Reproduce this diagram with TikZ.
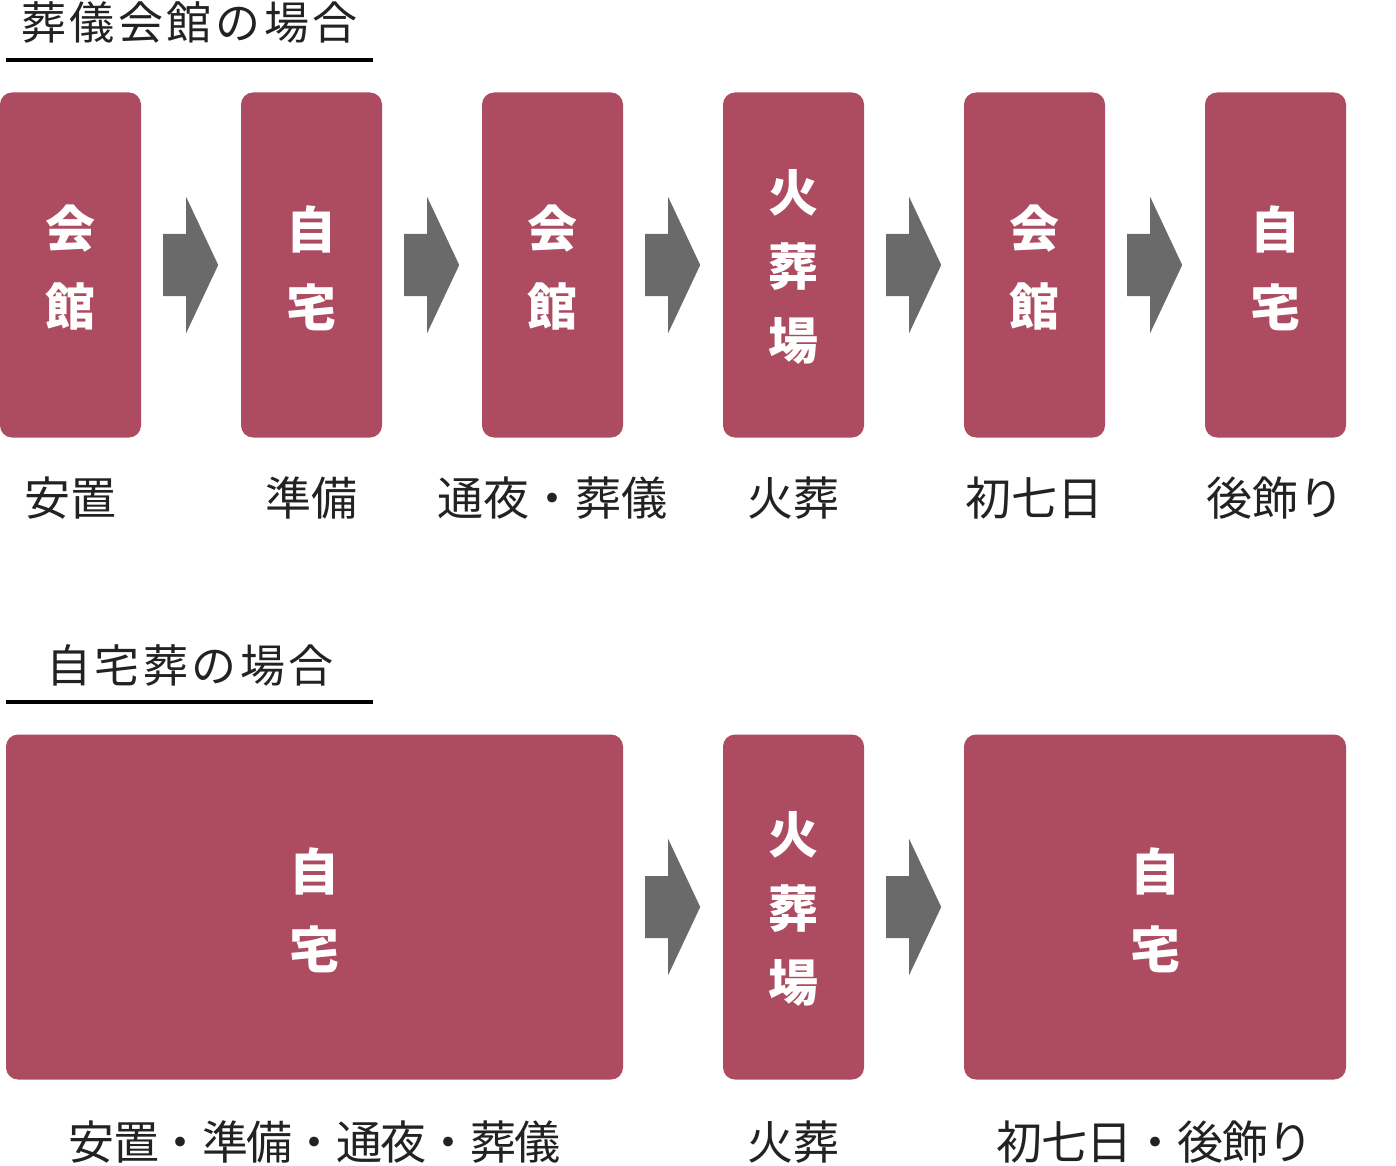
\documentclass[tikz,border=0pt]{standalone}
\usepackage{fontspec}
\newfontfamily\jp{Noto Sans CJK JP}
\usetikzlibrary{calc}
\definecolor{boxcol}{RGB}{173,75,96}
\definecolor{arrowgray}{RGB}{106,106,106}
\definecolor{ink}{RGB}{34,34,34}
\newcommand\blockarrow[1]{\fill[arrowgray] ($(#1.east)+(22,-31)$) -- ++(23,0) -- ++(0,-37) -- ++(32,68) -- ++(-32,68) -- ++(0,-37) -- ++(-23,0) -- cycle;}
\begin{document}
\begin{tikzpicture}[x=1pt,y=-1pt,
  stepbox/.style={fill=boxcol, rounded corners=12pt, inner sep=0pt, draw=none},
  boxtwo/.style={text=white, font=\jp\bfseries\fontsize{50}{78}\selectfont, align=center, inner sep=0pt, yshift=-3pt},
  boxthree/.style={text=white, font=\jp\bfseries\fontsize{50}{74}\selectfont, align=center, inner sep=0pt, yshift=-2pt},
  steplabel/.style={text=ink, font=\jp\fontsize{46}{54}\selectfont, inner sep=0pt, text height=.88em, text depth=.12em, yshift=-13pt},
  headtext/.style={text=ink, font=\jp\addfontfeature{LetterSpace=8}\fontsize{45}{54}\selectfont, inner sep=0pt, text height=.88em, text depth=.12em, yshift=-13pt},
  rule/.style={line width=4pt, draw=black}]
\useasboundingbox (0,0) rectangle (1396,1166);

% ---- section 1
\node[headtext] (h1) at (189.5,23) {葬儀会館の場合};
\coordinate (u1a) at (6,60); \coordinate (u1b) at (373,60);
\draw[rule] (u1a) -- (u1b);

\foreach \i/\x in {1/70.5,2/311.5,3/552.5,4/793.5,5/1034.5,6/1275.5}{
  \node[stepbox, minimum width=141pt, minimum height=345pt] (b\i) at (\x,265) {};
}
\node[boxtwo] (t1) at (b1) {会\\館};
\node[boxtwo] (t2) at (b2) {自\\宅};
\node[boxtwo] (t3) at (b3) {会\\館};
\node[boxthree] (t4) at (b4) {火\\葬\\場};
\node[boxtwo] (t5) at (b5) {会\\館};
\node[boxtwo] (t6) at (b6) {自\\宅};

\blockarrow{b1}\blockarrow{b2}\blockarrow{b3}\blockarrow{b4}\blockarrow{b5}

\node[steplabel] (l1) at (70.5,499) {安置};
\node[steplabel] (l2) at (311.5,499) {準備};
\node[steplabel] (l3) at (552.5,499) {通夜・葬儀};
\node[steplabel] (l4) at (793.5,499) {火葬};
\node[steplabel] (l5) at (1034.5,499) {初七日};
\node[steplabel] (l6) at (1275.5,499) {後飾り};

% ---- section 2
\node[headtext] (h2) at (190,666) {自宅葬の場合};
\coordinate (u2a) at (6,702); \coordinate (u2b) at (373,702);
\draw[rule] (u2a) -- (u2b);

\node[stepbox, minimum width=617pt, minimum height=345pt] (c1) at (314.5,907) {};
\node[stepbox, minimum width=141pt, minimum height=345pt] (c2) at (793.5,907) {};
\node[stepbox, minimum width=382pt, minimum height=345pt] (c3) at (1155,907) {};
\node[boxtwo] (s1) at (c1) {自\\宅};
\node[boxthree] (s2) at (c2) {火\\葬\\場};
\node[boxtwo] (s3) at (c3) {自\\宅};

\blockarrow{c1}\blockarrow{c2}

\node[steplabel, font=\jp\addfontfeature{LetterSpace=-3}\fontsize{46}{54}\selectfont] (m1) at (314.5,1143) {安置・準備・通夜・葬儀};
\node[steplabel] (m2) at (793.5,1143) {火葬};
\node[steplabel, font=\jp\addfontfeature{LetterSpace=-2}\fontsize{46}{54}\selectfont] (m3) at (1155,1143) {初七日・後飾り};
\end{tikzpicture}
\end{document}
